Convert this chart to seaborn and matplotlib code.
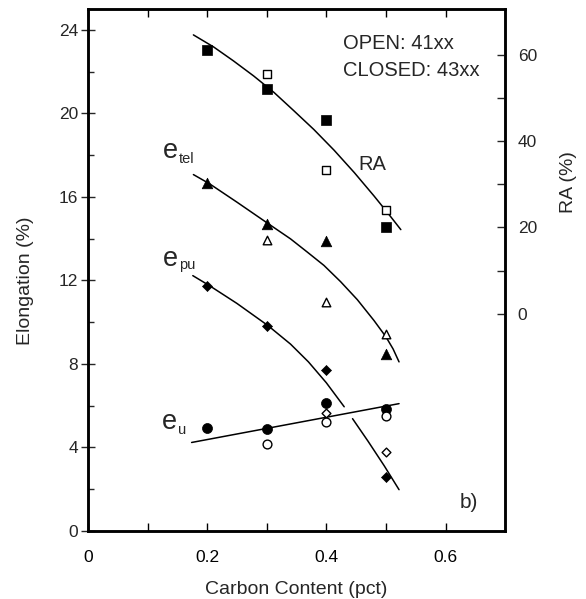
import numpy as np
import pandas as pd
import seaborn as sns
import matplotlib.pyplot as plt
from matplotlib.ticker import MultipleLocator, FixedLocator

# measured points (carbon content, pct)
carbon = [0.2, 0.3, 0.4, 0.5]
carbon_open = [0.3, 0.4, 0.5]

# RA (%) - right axis
ra_closed = [61.2, 52.1, 44.9, 20.2]
ra_open = [55.6, 33.4, 24.1]
# elongations (%) - left axis
etel_closed = [16.66, 14.71, 13.91, 8.50]
etel_open = [13.94, 10.95, 9.43]
epu_closed = [11.75, 9.83, 7.71, 2.59]
epu_open_c = [0.4, 0.5]
epu_open = [5.63, 3.80]
eu_closed = [4.93, 4.88, 6.15, 5.84]
eu_open = [4.16, 5.23, 5.52]

# fitted curves
ra_fit_c = [0.177, 0.211, 0.244, 0.278, 0.312, 0.345, 0.379, 0.413, 0.447, 0.480, 0.504, 0.525]
ra_fit = [64.6, 61.8, 58.6, 55.1, 51.3, 47.1, 42.7, 37.9, 32.7, 27.3, 23.2, 19.5]
etel_fit_c = [0.177, 0.204, 0.250, 0.303, 0.340, 0.368, 0.396, 0.424, 0.452, 0.480, 0.500, 0.512, 0.522]
etel_fit = [17.07, 16.63, 15.75, 14.71, 13.99, 13.36, 12.72, 11.94, 11.08, 10.08, 9.30, 8.72, 8.10]
epu_fit_c1 = [0.176, 0.204, 0.250, 0.302, 0.340, 0.370, 0.400, 0.430]
epu_fit1 = [12.23, 11.75, 10.90, 9.84, 8.95, 8.10, 7.10, 5.95]
epu_fit_c2 = [0.444, 0.470, 0.497, 0.522]
epu_fit2 = [5.38, 4.30, 3.13, 1.98]
eu_fit_c = [0.174, 0.522]
eu_fit = [4.24, 6.10]

sns.set_style('ticks')
plt.rcParams['font.family'] = ['Liberation Sans', 'DejaVu Sans']

fig = plt.figure(figsize=(5.86, 5.99), dpi=100)
ax = fig.add_axes([0.150, 0.1135, 0.712, 0.8715])
ax2 = ax.twinx()

line_kw = dict(color='black', linewidth=1.1, estimator=None, sort=False, legend=False)
sns.lineplot(x=etel_fit_c, y=etel_fit, ax=ax, **line_kw)
sns.lineplot(x=epu_fit_c1, y=epu_fit1, ax=ax, **line_kw)
sns.lineplot(x=epu_fit_c2, y=epu_fit2, ax=ax, **line_kw)
sns.lineplot(x=eu_fit_c, y=eu_fit, ax=ax, **line_kw)
sns.lineplot(x=ra_fit_c, y=ra_fit, ax=ax2, **line_kw)

filled = dict(color='black', edgecolor='black', linewidth=0.5, legend=False, zorder=3)
hollow = dict(color='white', edgecolor='black', linewidth=1.0, legend=False, zorder=3)

sns.scatterplot(x=carbon, y=etel_closed, marker='^', s=58, ax=ax, **filled)
sns.scatterplot(x=carbon_open, y=etel_open, marker='^', s=38, ax=ax, **hollow)
sns.scatterplot(x=carbon, y=epu_closed, marker='D', s=26, ax=ax, **filled)
sns.scatterplot(x=epu_open_c, y=epu_open, marker='D', s=20, ax=ax, **hollow)
sns.scatterplot(x=carbon, y=eu_closed, marker='o', s=52, ax=ax, **filled)
sns.scatterplot(x=carbon_open, y=eu_open, marker='o', s=40, ax=ax, **hollow)
sns.scatterplot(x=carbon, y=ra_closed, marker='s', s=46, ax=ax2, **filled)
sns.scatterplot(x=carbon_open, y=ra_open, marker='s', s=34, ax=ax2, **hollow)

ax.set_xlim(0, 0.70)
ax.set_ylim(0, 25)
ax2.set_ylim(-50.3, 70.6)

ax.xaxis.set_major_locator(FixedLocator([0, 0.2, 0.4, 0.6]))
ax.xaxis.set_minor_locator(FixedLocator([0.1, 0.3, 0.5]))
ax.set_xticklabels(['0', '0.2', '0.4', '0.6'])
ax.yaxis.set_major_locator(MultipleLocator(4))
ax.yaxis.set_minor_locator(MultipleLocator(2))
ax2.yaxis.set_major_locator(FixedLocator([0, 20, 40, 60]))
ax2.yaxis.set_minor_locator(FixedLocator([10, 30, 50]))

for a in (ax, ax2):
    for sp in a.spines.values():
        sp.set_visible(True)
        sp.set_linewidth(1.8)
        sp.set_color('black')

ax.tick_params(axis='x', which='both', direction='in', top=True, length=6, width=1.0,
               labelsize=12.5, pad=14, colors='black')
ax.tick_params(axis='y', which='major', direction='inout', length=10, width=1.0,
               labelsize=12.5, pad=2)
ax.tick_params(axis='y', which='minor', direction='in', length=4, width=1.0)
ax2.tick_params(axis='y', which='both', direction='in', length=6, width=1.0,
                labelsize=12.5, pad=9)

ax.set_xlabel('Carbon Content (pct)', fontsize=14, labelpad=11)
ax.set_ylabel('Elongation (%)', fontsize=14)
ax.yaxis.set_label_coords(-0.13, 0.48)
ax2.set_ylabel('RA (%)', fontsize=14)
ax2.yaxis.set_label_coords(1.132, 0.668)

# curve labels: large "e" with a small subscript
for cx, ey, sub, dx, dy in [(0.1256, 17.84, 'tel', 11.5, -3.6),
                            (0.1256, 12.71, 'pu', 12, -2.5),
                            (0.124, 4.89, 'u', 11.5, -3.6)]:
    ax.text(cx, ey, 'e', fontsize=19.5)
    ax.annotate(sub, xy=(cx, ey), xytext=(dx, dy), textcoords='offset points',
                fontsize=10.5)
ax2.text(0.453, 33.4, 'RA', fontsize=14.5)
ax.text(0.428, 23.1, 'OPEN: 41xx', fontsize=14.5)
ax.text(0.428, 21.8, 'CLOSED: 43xx', fontsize=14.5)
ax.text(0.623, 1.1, 'b)', fontsize=15)

fig.savefig('out.png', dpi=100)
